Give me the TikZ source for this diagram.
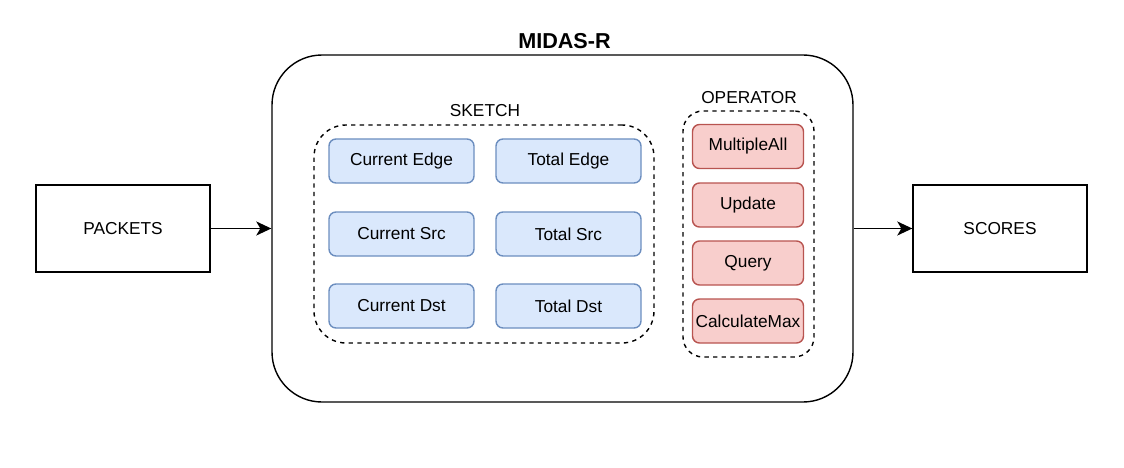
\documentclass[tikz,border=0pt]{standalone}
\usepackage{fontspec}
\setmainfont{Liberation Sans}
\usetikzlibrary{arrows.meta, positioning}
\definecolor{sketchfill}{RGB}{218,232,252}
\definecolor{sketchline}{RGB}{108,142,191}
\definecolor{opfill}{RGB}{248,206,204}
\definecolor{opline}{RGB}{184,84,80}

\tikzset{
    plainbox/.style={draw, line width=1.4pt, minimum width=174pt, minimum height=87pt, inner sep=0pt, font=\fontsize{17.3}{20}\selectfont},
    sketchbox/.style={draw=sketchline, fill=sketchfill, line width=1.4pt, rounded corners=7pt, minimum width=145pt, minimum height=44pt, inner sep=0pt, font=\fontsize{17.3}{20}\selectfont},
    opbox/.style={draw=opline, fill=opfill, line width=1.4pt, rounded corners=7pt, minimum width=111pt, minimum height=44pt, inner sep=0pt, font=\fontsize{17.3}{20}\selectfont},
    groupbox/.style={draw, line width=1.4pt, dash pattern=on 4.3pt off 4.3pt, inner sep=0pt},
    flow/.style={-{Stealth[length=15pt, width=14pt, inset=4pt]}, line width=1.8pt}
}

\begin{document}
\begin{tikzpicture}[x=1pt, y=-1pt]
    \useasboundingbox (0,0) rectangle (1124,468);

    % MIDAS-R container
    \node[draw, line width=1.4pt, rounded corners=50pt, minimum width=581pt, minimum height=347pt, inner sep=0pt] (midas) at (562.5,228.5) {};
    \node[font=\fontsize{21.6}{24}\selectfont\bfseries] (title) at (564.5,41) {MIDAS-R};

    % Input and output
    \node[plainbox] (packets) at (123,228.5) {PACKETS};
    \node[plainbox] (scores) at (1000,228.5) {SCORES};
    \draw[flow] (packets.east) -- (midas.west);
    \draw[flow] (midas.east) -- (scores.west);

    % Sketch group
    \node[groupbox, rounded corners=32pt, minimum width=340pt, minimum height=218pt] (sketch) at (484,234) {};
    \node[font=\fontsize{17.3}{20}\selectfont] (sketchlabel) at (485,111) {SKETCH};
    \node[sketchbox] (curedge) at (401.5,161) {Current Edge};
    \node[sketchbox] (totedge) at (568.5,161) {Total Edge};
    \node[sketchbox] (cursrc) at (401.5,234) {Current Src};
    \node[sketchbox] (totsrc) at (568.5,234) {Total Src};
    \node[sketchbox] (curdst) at (401.5,306) {Current Dst};
    \node[sketchbox] (totdst) at (568.5,306) {Total Dst};

    % Operator group
    \node[groupbox, rounded corners=20pt, minimum width=131pt, minimum height=246pt] (operator) at (748.5,234) {};
    \node[font=\fontsize{17.3}{20}\selectfont] (oplabel) at (749,98) {OPERATOR};
    \node[opbox] (multall) at (748,146.5) {MultipleAll};
    \node[opbox] (update) at (748,205) {Update};
    \node[opbox] (query) at (748,263) {Query};
    \node[opbox] (calcmax) at (748,321) {CalculateMax};
\end{tikzpicture}
\end{document}
